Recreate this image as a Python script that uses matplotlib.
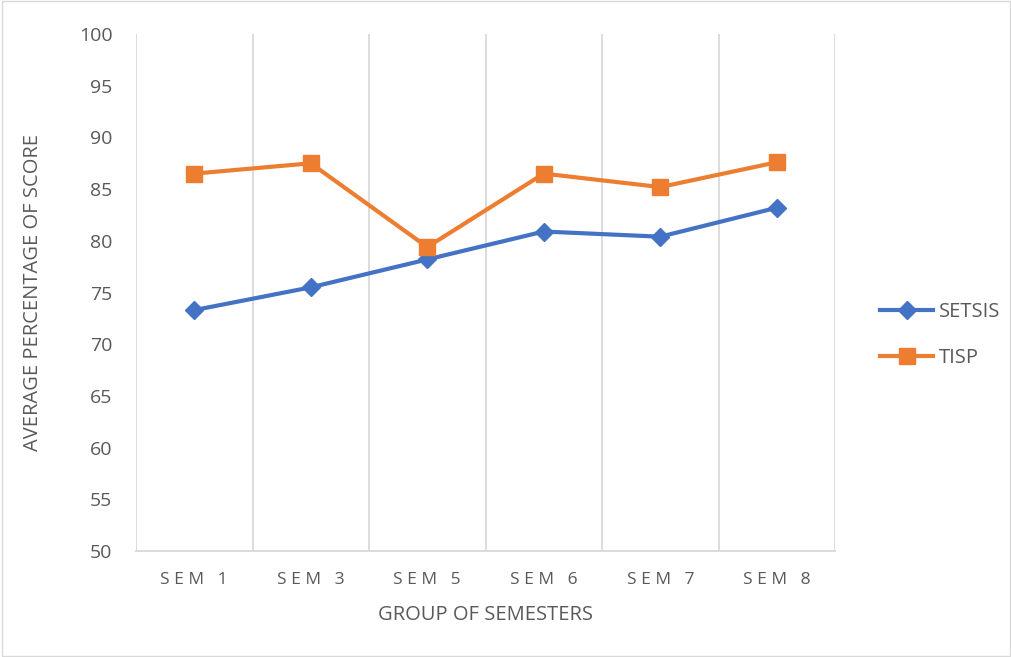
import numpy as np
import matplotlib.pyplot as plt
from matplotlib.patches import Rectangle

categories = ["SEM 1", "SEM 3", "SEM 5", "SEM 6", "SEM 7", "SEM 8"]
setsis = [73.3, 75.5, 78.2, 80.9, 80.4, 83.2]
tisp = [86.5, 87.5, 79.4, 86.5, 85.2, 87.6]

plt.rcParams['font.family'] = ['Open Sans', 'DejaVu Sans']
gray = '#595959'
grid = '#d9d9d9'

fig = plt.figure(figsize=(10.12, 6.57), dpi=100)
ax = fig.add_axes([0.1344, 0.1613, 0.6907, 0.7869])

x = np.arange(len(categories))
ax.plot(x, setsis, color='#4472C4', lw=3, marker='D', ms=9, label='SETSIS')
ax.plot(x, tisp, color='#ED7D31', lw=3, marker='s', ms=11, label='TISP')

ax.set_xlim(-0.5, len(categories) - 0.5)
ax.set_ylim(50, 100)
ax.set_yticks(np.arange(50, 101, 5))
ax.set_xticks(x)
ax.set_xticklabels([' '.join(c.replace(' ', '_')).replace('_', ' ') for c in categories])
for b in np.arange(-0.5, len(categories), 1):
    ax.axvline(b, color=grid, lw=1.3, zorder=0)

for s in ['top', 'right', 'left']:
    ax.spines[s].set_visible(False)
ax.spines['bottom'].set_color(grid)
ax.spines['bottom'].set_linewidth(1.3)
ax.tick_params(axis='both', length=0, colors=gray, labelsize=14)
ax.tick_params(axis='x', labelsize=12.5, pad=15)
ax.tick_params(axis='y', pad=17)

ax.set_xlabel('GROUP OF SEMESTERS', color=gray, fontsize=14.5, labelpad=12)
ax.set_ylabel('AVERAGE PERCENTAGE OF SCORE', color=gray, fontsize=14.5, labelpad=26)

leg = fig.legend(loc='center left', bbox_to_anchor=(0.852, 0.49), frameon=False,
                 fontsize=14.5, handlelength=2.6, labelspacing=1.3, handletextpad=0.3)
for t in leg.get_texts():
    t.set_color(gray)

fig.patches.append(Rectangle((0.002, 0.002), 0.996, 0.996, transform=fig.transFigure,
                             fill=False, edgecolor=grid, lw=1))

fig.savefig('out.png', dpi=100)
